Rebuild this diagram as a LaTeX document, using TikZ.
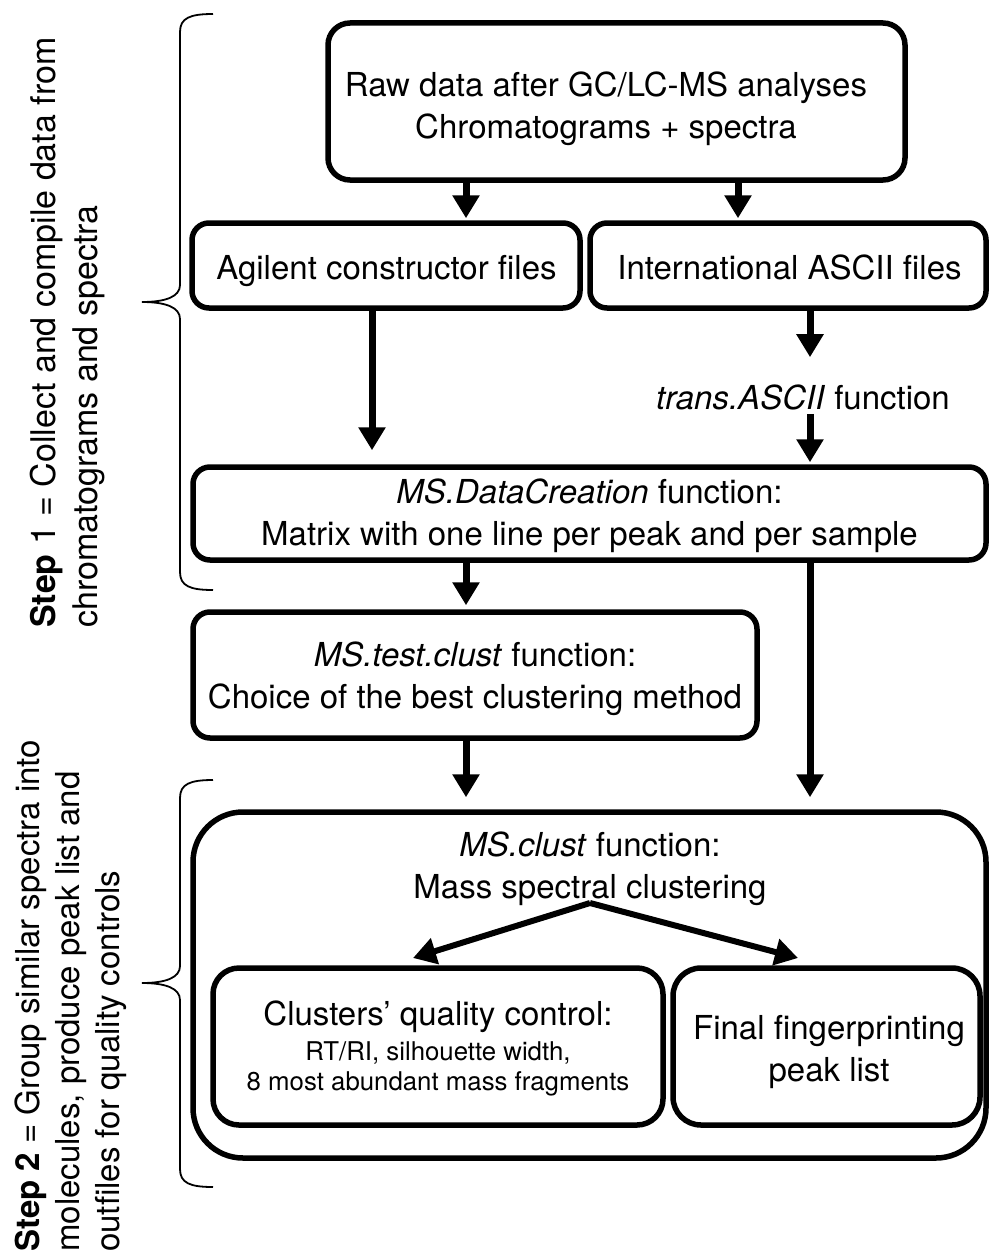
\documentclass[tikz,border=0pt]{standalone}
\usepackage{fontspec}
\setmainfont{TeX Gyre Heros}
\usetikzlibrary{arrows.meta,calc}
\newcommand\bigf{\fontsize{33}{42}\selectfont}
\newcommand\smallf{\fontsize{25.8}{30}\selectfont}
\newcommand\leftfa{\fontsize{34}{42}\selectfont}
\newcommand\leftfb{\fontsize{33}{40}\selectfont}
\begin{document}
\begin{tikzpicture}[x=1pt,y=-1pt,
  box/.style={draw, line width=5.5pt, rounded corners=17pt, inner sep=0pt},
  plain/.style={inner sep=0pt, align=center, font=\bigf},
  arr/.style={line width=7pt, -{Triangle[width=26pt,length=23pt]}, shorten >=2pt},
  arrs/.style={line width=6pt, -{Triangle[width=26pt,length=23pt]}},
  brc/.style={line width=1.8pt},
  sidetext/.style={inner sep=0pt, align=left, rotate=90, anchor=west}]
\useasboundingbox (0,0) rectangle (988,1255);
\fill[white] (0,0) rectangle (988,1255);

% boxes
\node[box, minimum width=577pt, minimum height=157pt, rounded corners=22pt] (raw) at (616.5,101.5) {};
\node[plain] (rawt) at (606,108.5) {Raw data after GC/LC-MS analyses\\Chromatograms + spectra};
\node[box, minimum width=388pt, minimum height=85pt] (agil) at (386,265.5) {};
\node[plain] (agilt) at (386.5,271.5) {Agilent constructor files};
\node[box, minimum width=396pt, minimum height=85pt] (intl) at (788,265.5) {};
\node[plain] (intlt) at (789.5,267.5) {International ASCII files};
\node[plain] (trans) at (803,397) {\textit{trans.ASCII} function};
\node[box, minimum width=793pt, minimum height=93pt] (dc) at (589.5,513.5) {};
\node[plain] (dct) at (589.5,515.5) {\textit{MS.DataCreation} function:\\Matrix with one line per peak and per sample};
\node[box, minimum width=564pt, minimum height=126pt] (tc) at (475,675) {};
\node[plain] (tct) at (475,679) {\textit{MS.test.clust} function:\\Choice of the best clustering method};
\node[box, minimum width=793pt, minimum height=346pt, rounded corners=50pt] (mc) at (589.5,985) {};
\node[plain] (mct) at (590,869) {\textit{MS.clust} function:\\Mass spectral clustering};
\node[box, minimum width=450pt, minimum height=157pt, rounded corners=26pt] (qc) at (438,1046.5) {};
\node[plain, font=\smallf] (qct) at (438,1048)
  {{\bigf Clusters’ quality control:}\\[5pt]RT/RI, silhouette width,\\8 most abundant mass fragments};
\node[box, minimum width=307pt, minimum height=157pt, rounded corners=28pt] (fp) at (826.5,1046.5) {};
\node[plain] (fpt) at (829,1052.5) {Final fingerprinting\\peak list};

% helper coordinates
\coordinate (xa) at (466,0);
\coordinate (xb) at (738,0);
\coordinate (xc) at (372,0);
\coordinate (xd) at (810,0);
\coordinate (split) at (590,903);
\coordinate (qtip) at (413,958);
\coordinate (ftip) at (798,958);

% connectors
\draw[arr] (xa |- raw.south) -- (xa |- agil.north);
\draw[arr] (xb |- raw.south) -- (xb |- intl.north);
\draw[arr, shorten >=14pt] (xc |- agil.south) -- (xc |- dc.north);
\draw[arr, shorten >=27pt] (xd |- intl.south) -- (xd |- trans.north);
\draw[arr, shorten <=4pt] (xd |- trans.south) -- (xd |- dc.north);
\draw[arr, shorten >=4pt] (xa |- dc.south) -- (xa |- tc.north);
\draw[arr, shorten >=12pt] (xd |- dc.south) -- (xd |- mc.north);
\draw[arr, shorten >=12pt] (xa |- tc.south) -- (xa |- mc.north);
\draw[arrs] (split) -- (qtip);
\draw[arrs] (split) -- (ftip);

% braces
\draw[brc] (213,14) .. controls (190,14) and (180,18) .. (180,32) -- (180,285)
  .. controls (180,297) and (165,302) .. (142,302)
  .. controls (165,302) and (180,307) .. (180,319) -- (180,572)
  .. controls (180,586) and (190,590) .. (213,590);
\draw[brc] (213,780) .. controls (190,780) and (180,784) .. (180,798) -- (180,966)
  .. controls (180,978) and (165,983) .. (142,983)
  .. controls (165,983) and (180,988) .. (180,1000) -- (180,1169)
  .. controls (180,1183) and (190,1187) .. (213,1187);

% side texts
\node[sidetext, font=\leftfa] (s1) at (68,628) {\textbf{Step} 1 = Collect and compile data from\\chromatograms and spectra};
\node[sidetext, font=\leftfb] (s2) at (71,1252) {\textbf{Step 2} = Group similar spectra into\\molecules, produce peak list and\\outfiles for quality controls};
\end{tikzpicture}
\end{document}
